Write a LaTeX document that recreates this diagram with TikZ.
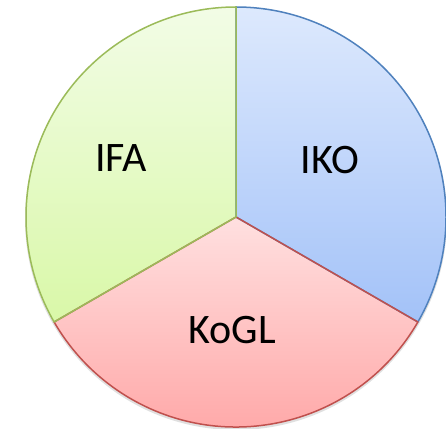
\documentclass[tikz,border=0pt]{standalone}
\usepackage{fontspec}
\setmainfont{Carlito}
\definecolor{gline}{HTML}{9BBB59}
\definecolor{bline}{HTML}{4F81BD}
\definecolor{rline}{HTML}{C0504D}
\definecolor{gtop}{HTML}{F2FCE6}
\definecolor{gbot}{HTML}{D9F8A8}
\definecolor{btop}{HTML}{DDE9FD}
\definecolor{bbot}{HTML}{A3C2F8}
\definecolor{rtop}{HTML}{FFE0E0}
\definecolor{rbot}{HTML}{FFA2A2}
\tikzset{lbl/.style={font=\fontsize{42}{50}\selectfont, text=black, inner sep=0pt}}
\begin{document}
\begin{tikzpicture}[x=1pt,y=1pt]
\useasboundingbox (0,0) rectangle (446,428);
\coordinate (c) at (236,211);
% faint shadow
\fill[black!12] (236,209) circle (211);
% sectors
\shade[top color=btop, bottom color=bbot] (c) -- ++(90:210) arc (90:-30:210) -- cycle;
\shade[top color=rtop, bottom color=rbot] (c) -- ++(-30:210) arc (-30:-150:210) -- cycle;
\shade[top color=gtop, bottom color=gbot] (c) -- ++(90:210) arc (90:210:210) -- cycle;
% borders
\draw[bline, line width=1.5pt, line join=round] (c) -- ++(90:210) arc (90:-30:210) -- cycle;
\draw[rline, line width=1.5pt, line join=round] (c) -- ++(-30:210) arc (-30:-150:210) -- cycle;
\draw[gline, line width=1.5pt, line join=round] (c) -- ++(90:210) arc (90:210:210) -- cycle;
% labels
\node[lbl] (ifa) at (121,270) {IFA};
\node[lbl] (iko) at (330,268) {IKO};
\node[lbl] (kogl) at (232,98) {KoGL};
\end{tikzpicture}
\end{document}
